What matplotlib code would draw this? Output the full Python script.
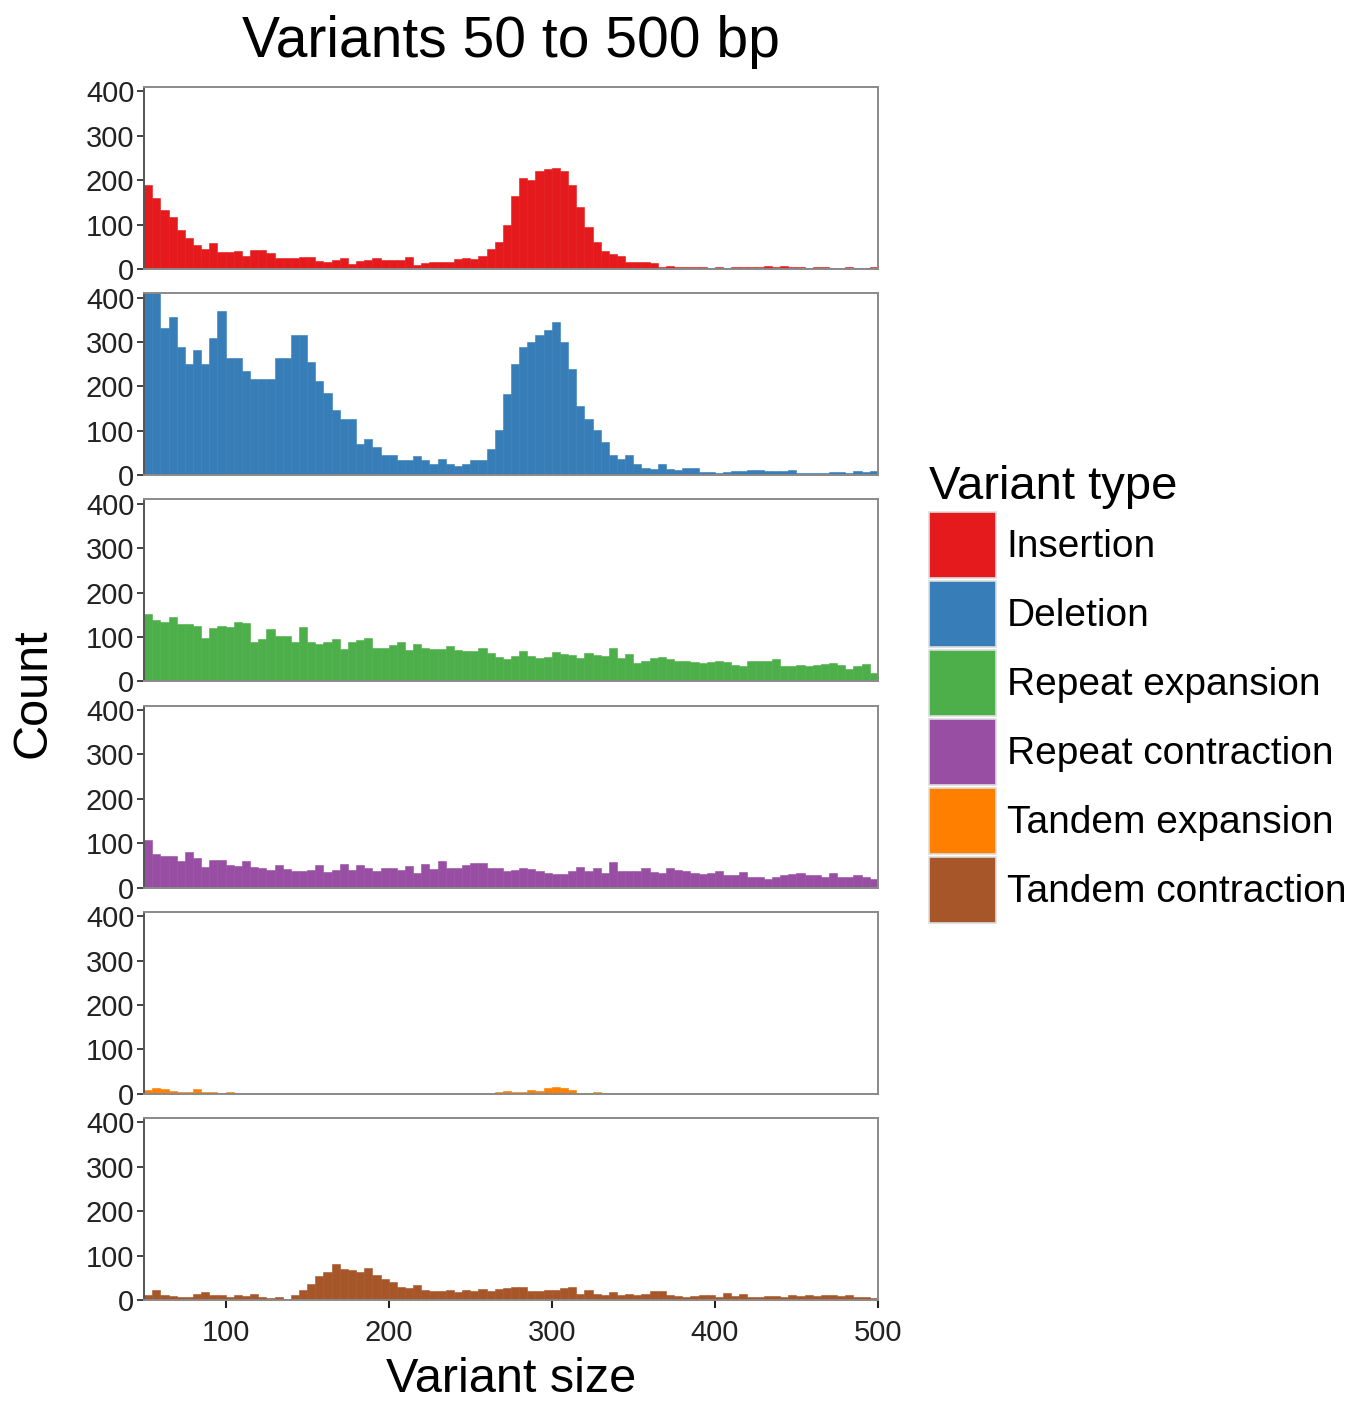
import numpy as np
import matplotlib
matplotlib.use("Agg")
from matplotlib import pyplot as plt
from matplotlib.patches import Patch

plt.rcParams['font.family'] = ['Liberation Sans', 'DejaVu Sans']

# 5 bp bins from 50 to 500
bin_width = 5
bin_starts = np.arange(50, 500, bin_width)

insertion = [190, 160, 133, 118, 88, 69, 54, 46, 58, 39,
             39, 40, 30, 42, 42, 37, 25, 25, 25, 27,
             27, 18, 16, 20, 25, 12, 18, 20, 25, 20,
             20, 20, 27, 10, 14, 16, 16, 17, 22, 25,
             22, 30, 45, 60, 100, 165, 205, 200, 222, 225,
             228, 222, 190, 140, 95, 62, 40, 35, 30, 16,
             16, 15, 14, 5, 6, 5, 4, 4, 5, 3,
             4, 3, 5, 4, 5, 4, 6, 5, 8, 5,
             4, 3, 5, 4, 3, 3, 4, 3, 3, 4]

deletion = [460, 430, 331, 357, 288, 251, 281, 251, 309, 370,
            265, 265, 235, 217, 217, 217, 263, 263, 315, 315,
            254, 213, 185, 148, 126, 126, 71, 82, 64, 45,
            45, 34, 34, 43, 34, 25, 36, 25, 22, 25,
            34, 34, 59, 103, 183, 251, 288, 299, 315, 327,
            345, 299, 240, 155, 126, 103, 75, 45, 36, 45,
            25, 16, 14, 25, 14, 11, 16, 16, 8, 7,
            6, 8, 9, 10, 12, 12, 10, 9, 10, 12,
            6, 5, 5, 6, 7, 8, 6, 9, 7, 9]

repeat_expansion = [151, 139, 133, 146, 130, 130, 126, 99, 120, 126,
                    123, 133, 131, 88, 95, 118, 103, 103, 88, 123,
                    88, 84, 90, 95, 72, 90, 93, 99, 75, 76,
                    82, 90, 70, 84, 75, 72, 72, 80, 70, 69,
                    69, 76, 65, 55, 50, 57, 69, 57, 53, 55,
                    67, 61, 59, 53, 65, 59, 57, 76, 53, 62,
                    42, 46, 53, 55, 50, 47, 46, 44, 42, 44,
                    47, 44, 38, 34, 47, 47, 47, 50, 34, 34,
                    37, 34, 37, 40, 42, 37, 27, 34, 40, 19]

repeat_contraction = [107, 75, 71, 71, 59, 81, 67, 46, 63, 63,
                      50, 48, 61, 46, 44, 40, 50, 43, 38, 38,
                      40, 52, 35, 40, 53, 40, 50, 44, 38, 44,
                      44, 40, 48, 33, 53, 43, 61, 44, 44, 50,
                      56, 56, 44, 44, 38, 40, 44, 43, 38, 33,
                      30, 30, 37, 46, 37, 44, 33, 58, 38, 37,
                      38, 44, 35, 33, 44, 40, 38, 33, 30, 33,
                      38, 29, 29, 35, 23, 25, 20, 23, 29, 30,
                      33, 29, 29, 25, 33, 25, 23, 29, 23, 20]

tandem_expansion = [8, 13, 12, 6, 4, 4, 11, 5, 4, 3,
                    4, 3, 2, 1, 1, 1, 1, 1, 1, 1,
                    1, 1, 1, 1, 1, 1, 1, 1, 1, 1,
                    1, 1, 1, 1, 1, 1, 1, 1, 1, 1,
                    2, 3, 3, 5, 6, 4, 5, 8, 7, 13,
                    15, 14, 8, 3, 2, 5, 1, 1, 1, 1,
                    1, 1, 1, 1, 1, 1, 1, 1, 1, 1,
                    1, 1, 1, 1, 1, 1, 1, 1, 1, 1,
                    1, 1, 2, 3, 2, 1, 1, 1, 1, 1]

tandem_contraction = [11, 22, 11, 9, 7, 7, 14, 18, 12, 11,
                      7, 11, 9, 14, 7, 5, 7, 3, 11, 22,
                      37, 53, 64, 81, 69, 68, 64, 72, 56, 47,
                      40, 30, 27, 34, 22, 20, 20, 22, 18, 22,
                      20, 24, 20, 24, 28, 30, 30, 20, 20, 22,
                      22, 27, 30, 14, 22, 14, 12, 18, 12, 14,
                      11, 14, 20, 20, 11, 9, 7, 9, 12, 11,
                      7, 16, 9, 14, 7, 7, 9, 9, 7, 11,
                      9, 12, 9, 11, 12, 9, 11, 7, 7, 5]

types = ['Insertion', 'Deletion', 'Repeat expansion', 'Repeat contraction',
         'Tandem expansion', 'Tandem contraction']
series = [insertion, deletion, repeat_expansion, repeat_contraction,
          tandem_expansion, tandem_contraction]
colors = ['#E41A1C', '#377EB8', '#4DAF4A', '#984EA3', '#FF7F00', '#A65628']

y_ticks = [0, 100, 200, 300, 400]
x_ticks = [100, 200, 300, 400, 500]

fig, axes = plt.subplots(6, 1, figsize=(13.59, 14.03), dpi=100, sharex=True)
fig.subplots_adjust(left=0.106, right=0.646, top=0.938, bottom=0.0734, hspace=0.132)

for ax, counts, col in zip(axes, series, colors):
    ax.bar(bin_starts, counts, width=bin_width, align='edge', color=col,
           edgecolor=col, linewidth=0.4)
    ax.set_xlim(50, 500)
    ax.set_ylim(0, 410)
    ax.set_yticks(y_ticks)
    ax.tick_params(axis='y', labelsize=21, length=5, width=1.3,
                   color='#333333', labelcolor='#222222', pad=2)
    ax.tick_params(axis='x', length=0, labelbottom=False)
    for s in ax.spines.values():
        s.set_color('#8a8a8a')
        s.set_linewidth(1.4)
    ax.spines['left'].set_color('#555555')

bottom = axes[-1]
bottom.set_xticks(x_ticks)
bottom.tick_params(axis='x', length=6, width=1.5, color='#222222',
                   labelbottom=True, labelsize=21, labelcolor='#222222', pad=8)
bottom.set_xlabel('Variant size', fontsize=35, labelpad=7)

fig.text(0.024, 0.506, 'Count', rotation=90, fontsize=35, ha='center', va='center')
fig.text(0.376, 0.970, 'Variants 50 to 500 bp', fontsize=41, ha='center', va='center')

handles = [Patch(facecolor=c, edgecolor='#dddddd', linewidth=1.2) for c in colors]
leg = fig.legend(handles, types, loc='upper left', bbox_to_anchor=(0.672, 0.680),
                 frameon=False, fontsize=28, title='Variant type', title_fontsize=34,
                 handlelength=1.72, handleheight=2.23, labelspacing=0.08,
                 handletextpad=0.28, borderaxespad=0)
leg._legend_box.align = 'left'

fig.savefig('out.png', dpi=100)
